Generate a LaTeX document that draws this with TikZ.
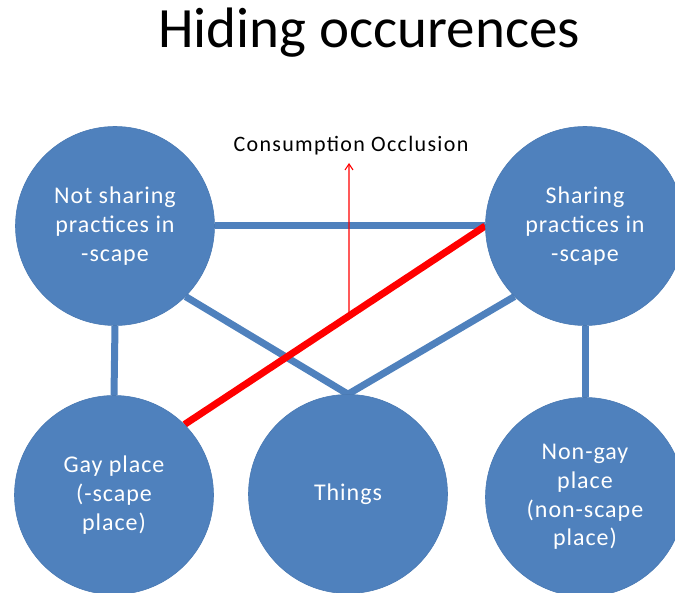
\documentclass[tikz,border=0pt]{standalone}
\usepackage{fontspec}
\setmainfont{Carlito}
\newfontfamily\spaced[LetterSpace=4]{Carlito}
\newfontfamily\spacedb[LetterSpace=6]{Carlito}
\usetikzlibrary{backgrounds,arrows.meta,calc}
\definecolor{obl}{HTML}{4F81BD}
\definecolor{obd}{HTML}{4A7AB3}
\begin{document}
\begin{tikzpicture}[x=1pt,y=-1pt,
  bubble/.style={circle,fill=obl,draw=obd,line width=0.6pt,minimum size=199pt,inner sep=0pt,
    text=white,align=center,font=\spaced\fontsize{24}{28.8}\selectfont},
  link/.style={draw=obl,line width=7pt},
  redlink/.style={draw=red,line width=7pt},
  arrowlink/.style={draw=red,line width=1.1pt,-{Straight Barb[length=6pt,width=8pt]}}]
\useasboundingbox (0,0) rectangle (675,593);
\node[font=\fontsize{57}{62}\selectfont] (title) at (369,33) {Hiding occurences};
\node[font=\spacedb\fontsize{22}{26}\selectfont] (occl) at (351,146) {Consumption Occlusion};
\node[bubble] (tl) at (115,226) {Not sharing\\practices in\\-scape};
\node[bubble] (tr) at (585,226) {Sharing\\practices in\\-scape};
\node[bubble] (gp) at (114,495) {Gay place\\(-scape\\place)};
\node[bubble] (th) at (348,494) {Things};
\node[bubble] (ng) at (585,497) {Non-gay\\place\\(non-scape\\place)};
\coordinate (occ) at ($(gp.45)!0.547!(tr.west)$);
\coordinate (occtop) at (349,163);
\begin{scope}[on background layer]
  \draw[link] (tl) -- (tr);
  \draw[link] (tl.-45) -- (th.north);
  \draw[link] (tr.225) -- (th.north);
  \draw[link] (tl.south) -- (gp.north);
  \draw[link] (tr.south) -- (ng.north);
  \draw[redlink] (gp.45) -- (tr.west);
  \draw[arrowlink] (occ) -- (occtop);
\end{scope}
\end{tikzpicture}
\end{document}
